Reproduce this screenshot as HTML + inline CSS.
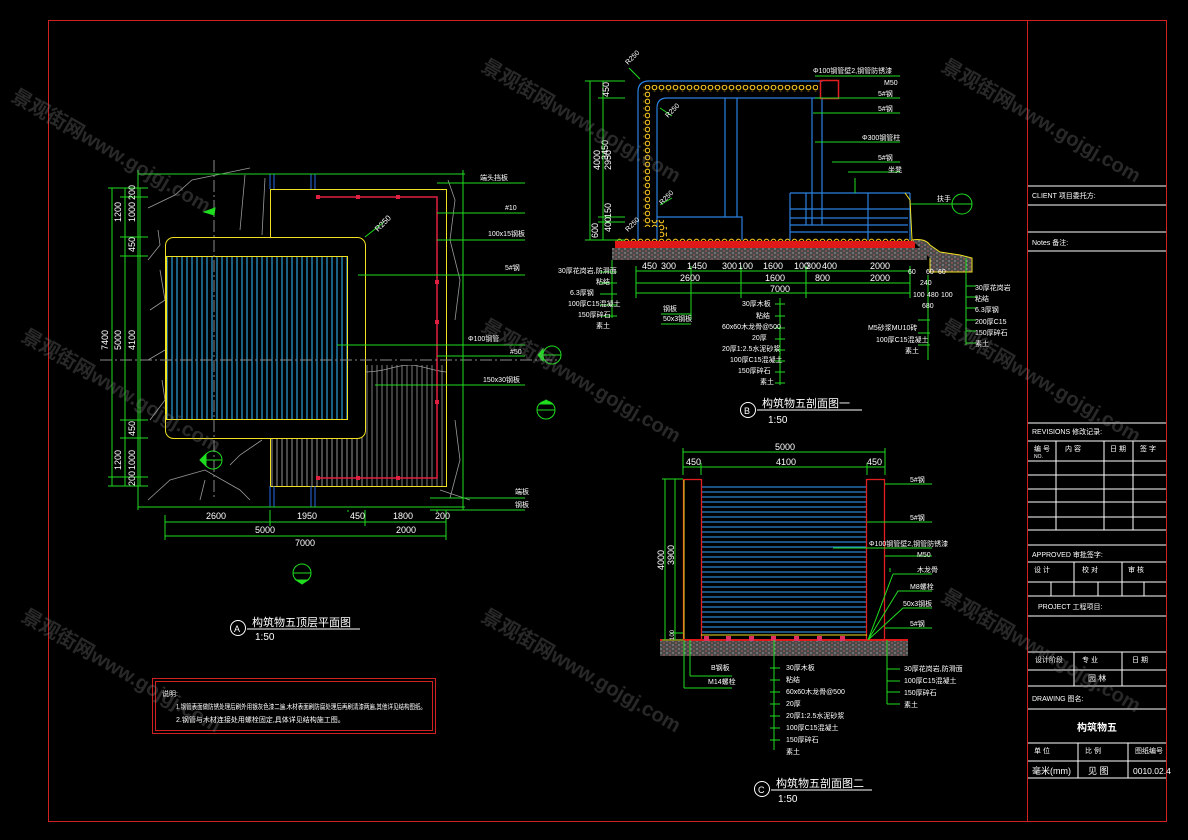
<!DOCTYPE html>
<html><head><meta charset="utf-8"><style>
html,body{margin:0;padding:0;background:#000;}
svg{display:block;font-family:"Liberation Sans","Noto Sans CJK SC",sans-serif;}
.g{stroke:#1fdc1f;stroke-width:1;fill:none}
.t{fill:#fff;font-size:9px}
.ts{fill:#fff;font-size:7px}
.w{stroke:#fff;stroke-width:1;fill:none}
.wm{fill:#8a8a8a;opacity:.3;font-size:20px;font-weight:bold}
</style></head><body>
<svg width="1188" height="840" viewBox="0 0 1188 840" xmlns="http://www.w3.org/2000/svg">
<defs>
<pattern id="vb" width="5" height="10" patternUnits="userSpaceOnUse"><line x1="2" y1="0" x2="2" y2="10" stroke="#2aa0d8" stroke-width="1.2"/></pattern>
<pattern id="vg" width="5" height="10" patternUnits="userSpaceOnUse"><line x1="2" y1="0" x2="2" y2="10" stroke="#9a9a9a" stroke-width="0.8"/></pattern>
<pattern id="hb" width="10" height="5" patternUnits="userSpaceOnUse"><line x1="0" y1="2" x2="10" y2="2" stroke="#2a8ad8" stroke-width="1.2"/></pattern>
<pattern id="gr" width="6" height="4" patternUnits="userSpaceOnUse"><rect width="6" height="4" fill="#4a4a4a"/><circle cx="1" cy="1" r=".7" fill="#aaa"/><circle cx="4" cy="3" r=".7" fill="#c06060"/></pattern>
<pattern id="yd" width="7" height="7" patternUnits="userSpaceOnUse"><circle cx="3.5" cy="3.5" r="2.3" fill="none" stroke="#f0c020" stroke-width="1.2"/></pattern>
</defs>
<rect width="1188" height="840" fill="#000"/>
<rect x="48.5" y="20.5" width="1118" height="801" fill="none" stroke="#d02020" stroke-width="1"/>
<line x1="1027.5" y1="20" x2="1027.5" y2="822" stroke="#d02020"/>

<!-- ===== PLAN A ===== -->
<g stroke="#9a9a9a" fill="none" stroke-width=".8">
<path d="M148,208 L175,195 L192,180 L250,168 M148,260 L160,245 L158,230 M150,310 L165,300 L160,270 M148,360 L165,350 M150,420 L165,400 L162,380 M148,500 L170,480 L205,470 L240,490 L250,500 M230,465 L240,455 L262,440 M200,500 L205,480 M245,175 L240,230 M265,178 L262,235 M448,180 L455,200 L450,240 L460,280 L455,320 M455,420 L460,460 L450,498 M440,490 L470,500 M365,372 C385,372 395,365 410,365 C420,365 430,370 446,372"/>
</g>
<rect x="270" y="365" width="176" height="121" fill="url(#vg)"/>
<rect x="270" y="438" width="95" height="48" fill="url(#vg)"/>
<rect x="270" y="189" width="176" height="176" fill="#000"/>
<rect x="270.5" y="189.5" width="176" height="297" fill="none" stroke="#f0e020"/>
<rect x="165.5" y="237.5" width="200" height="201" rx="8" fill="#000" stroke="#f0e020"/>
<rect x="166" y="256" width="182" height="164" fill="url(#vb)"/>
<rect x="166.5" y="256.5" width="181" height="163" fill="none" stroke="#f0e020"/>
<g stroke="#2a6ae0"><line x1="270" y1="174" x2="270" y2="189"/><line x1="274" y1="174" x2="274" y2="189"/><line x1="311" y1="174" x2="311" y2="189"/><line x1="315" y1="174" x2="315" y2="189"/><line x1="270" y1="486" x2="270" y2="507"/><line x1="274" y1="486" x2="274" y2="507"/><line x1="311" y1="486" x2="311" y2="507"/><line x1="315" y1="486" x2="315" y2="507"/></g>
<g stroke="#e02040" stroke-width="1.5" fill="none"><path d="M318,197 H437 V478 H318"/></g>
<g fill="#e02040"><rect x="316" y="195" width="4" height="4"/><rect x="356" y="195" width="4" height="4"/><rect x="396" y="195" width="4" height="4"/><rect x="316" y="476" width="4" height="4"/><rect x="356" y="476" width="4" height="4"/><rect x="396" y="476" width="4" height="4"/><rect x="435" y="280" width="4" height="4"/><rect x="435" y="320" width="4" height="4"/><rect x="435" y="400" width="4" height="4"/></g>
<line x1="100" y1="360" x2="560" y2="360" stroke="#888" stroke-dasharray="12,3,2,3"/>
<line x1="214" y1="160" x2="214" y2="500" stroke="#888" stroke-dasharray="12,3,2,3"/>
<g class="g">
<line x1="138" y1="174" x2="465" y2="174"/><line x1="138" y1="507" x2="465" y2="507"/>
<line x1="138" y1="170" x2="138" y2="510"/><line x1="463" y1="170" x2="463" y2="510"/>
<line x1="112" y1="188" x2="112" y2="486"/><line x1="125" y1="188" x2="125" y2="486"/><line x1="140" y1="188" x2="140" y2="486"/>
<path d="M108,188 H148 M120,197 H148 M120,237 H148 M120,256 H148 M120,420 H148 M120,438 H148 M108,477 H148 M108,486 H148"/>
<line x1="165" y1="522" x2="446" y2="522"/><line x1="165" y1="536" x2="446" y2="536"/>
<path d="M165,515 V540 M270,510 V526 M348,510 V512 M365,510 V526 M437,510 V512 M446,510 V540"/>
<path d="M437,183 H525 M437,213 H525 M437,240 H525 M358,275 H525 M337,345 H525 M437,356 H525 M375,385 H525 M430,498 H525 M430,510 H525"/>
<path d="M365,237 L384,222"/>
</g>
<g class="ts">
<text x="480" y="180">端头挡板</text><text x="505" y="210">#10</text><text x="488" y="236">100x15钢板</text><text x="505" y="270">5#钢</text>
<text x="468" y="341">Φ100钢管</text><text x="510" y="354">#50</text><text x="483" y="382">150x30钢板</text><text x="515" y="494">端板</text><text x="515" y="507">钢板</text>
</g>
<g class="t">
<text x="206" y="519">2600</text><text x="297" y="519">1950</text><text x="350" y="519">450</text><text x="393" y="519">1800</text><text x="435" y="519">200</text>
<text x="255" y="533">5000</text><text x="396" y="533">2000</text><text x="295" y="546">7000</text>
<text transform="translate(121,222) rotate(-90)">1200</text><text transform="translate(135,222) rotate(-90)">1000</text><text transform="translate(135,200) rotate(-90)">200</text>
<text transform="translate(135,252) rotate(-90)">450</text><text transform="translate(108,350) rotate(-90)">7400</text><text transform="translate(121,350) rotate(-90)">5000</text><text transform="translate(135,350) rotate(-90)">4100</text>
<text transform="translate(135,436) rotate(-90)">450</text><text transform="translate(121,470) rotate(-90)">1200</text><text transform="translate(135,470) rotate(-90)">1000</text><text transform="translate(135,486) rotate(-90)">200</text>
<text transform="translate(378,232) rotate(-45)" font-size="8">R250</text>
</g>
<g class="g" stroke-width="1.2">
<circle cx="552" cy="355" r="9"/><line x1="543" y1="355" x2="561" y2="355"/><path d="M538,355 L543,349 L543,361Z" fill="#1fdc1f"/>
<circle cx="546" cy="410" r="9"/><line x1="537" y1="410" x2="555" y2="410"/><path d="M546,400 L540,404 L552,404Z" fill="#1fdc1f"/>
<circle cx="213" cy="460" r="9"/><line x1="204" y1="460" x2="222" y2="460"/><path d="M200,460 L206,454 L206,466Z" fill="#1fdc1f"/>
<circle cx="302" cy="573" r="9"/><line x1="293" y1="573" x2="311" y2="573"/><path d="M302,584 L296,580 L308,580Z" fill="#1fdc1f"/>
<circle cx="962" cy="204" r="10"/><line x1="952" y1="204" x2="972" y2="204"/><line x1="911" y1="204" x2="952" y2="204"/>
<path d="M204,212 L215,208 L214,215Z" fill="#1fdc1f"/>
</g>
<circle cx="238" cy="628" r="7.5" fill="none" stroke="#fff"/><text x="234" y="632" class="t" font-size="10">A</text>
<text x="252" y="626" fill="#fff" font-size="11">构筑物五顶层平面图</text><line x1="247" y1="629" x2="360" y2="629" stroke="#fff"/>
<text x="255" y="640" fill="#fff" font-size="10">1:50</text>
<rect x="152.5" y="678.5" width="283" height="55" fill="none" stroke="#d02020"/>
<rect x="155.5" y="681.5" width="277" height="49" fill="none" stroke="#d02020"/>
<g class="ts" font-size="6"><text x="162" y="696">说明:</text><text x="176" y="709" textLength="250" lengthAdjust="spacingAndGlyphs">1.钢管表面做防锈处理后刷外用银灰色漆二遍,木材表面刷防腐处理后再刷清漆两遍,其他详见结构图纸。</text><text x="176" y="722">2.钢管与木材连接处用螺栓固定,具体详见结构施工图。</text></g>

<!-- ===== SECTION B ===== -->
<g stroke="#2a80e0" fill="none" stroke-width="1.2">
<path d="M638,240 V92 Q638,81 649,81 H823"/>
<path d="M657,240 V108 Q657,98 667,98 H823"/>
<path d="M657,217 H742 V240"/>
<path d="M725,98 V217 M737,98 V217 M812,98 V225 M822,98 V225"/>
<path d="M790,193 H910 M790,209 H910 M790,218 H908 M790,225 H908 M790,232 H908 M790,193 V240 M806,193 V225 M868,193 V240 M910,193 V240"/>
</g>
<g fill="url(#yd)"><rect x="643" y="85" width="175" height="7"/><rect x="643" y="92" width="7" height="135"/><rect x="650" y="220" width="14" height="7"/><rect x="660" y="227" width="7" height="10"/></g>
<rect x="820.5" y="80.5" width="18" height="18" fill="none" stroke="#e02020" stroke-width="1.5"/>
<path d="M905,193 L910,200 L912,240" stroke="#f0e020" fill="none"/>
<rect x="615" y="238" width="297" height="3" fill="url(#yd)"/>
<rect x="615" y="241" width="300" height="7" fill="#e01818"/>
<rect x="612" y="248" width="315" height="12" fill="url(#gr)"/>
<path d="M912,240 Q925,238 930,245 L940,252 L960,255 L972,258 L972,272 L930,272 L930,258" fill="url(#gr)" stroke="#f0e020"/>
<g class="g">
<path d="M585,81 H625 M598,98 H625 M598,217 H625 M598,222 H625 M585,240 H625 M590,81 V240 M603,81 V240"/>
<path d="M612,260 V318 M600,272 H617 M600,283 H617 M600,294 H617 M600,305 H617 M600,316 H617"/>
<path d="M636,271 H910 M636,283 H910 M636,293 H910 M636,266 V298 M691,266 V298 M741,266 V298 M806,266 V298 M910,266 V298"/>
<path d="M691,298 V320 M661,314 H691 M661,324 H691"/>
<path d="M780,298 V385 M775,304 H785 M775,316 H785 M775,328 H785 M775,339 H785 M775,350 H785 M775,361 H785 M775,372 H785 M775,383 H785"/>
<path d="M928,275 V360 M918,320 H930 M918,333 H930 M918,345 H930"/>
<path d="M966,258 V345 M966,286 H976 M966,297 H976 M966,308 H976 M966,320 H976 M966,331 H976 M966,343 H976"/>
<path d="M815,76 H900 M815,98 H900 M813,113 H900 M815,142 H900 M832,162 H900 M848,172 H900 M855,178 V193"/>
<path d="M629,68 L640,79 M660,108 L672,116 M660,205 L672,198"/>
</g>
<g class="ts">
<text x="813" y="73">Φ100钢管壁2,钢管防锈漆</text><text x="884" y="85">M50</text><text x="878" y="96">5#钢</text><text x="878" y="111">5#钢</text>
<text x="862" y="140">Φ300钢管柱</text><text x="878" y="160">5#钢</text><text x="888" y="172">坐凳</text><text x="937" y="201">扶手</text>
<text x="558" y="273">30厚花岗岩,防滑面</text><text x="596" y="284">粘结</text><text x="570" y="295">6.3厚钢</text><text x="568" y="306">100厚C15混凝土</text><text x="578" y="317">150厚碎石</text><text x="596" y="328">素土</text>
<text x="663" y="311">钢板</text><text x="663" y="321">50x3钢板</text>
<text x="742" y="306">30厚木板</text><text x="756" y="318">粘结</text><text x="722" y="329">60x60木龙骨@500</text><text x="752" y="340">20厚</text><text x="722" y="351">20厚1:2.5水泥砂浆</text><text x="730" y="362">100厚C15混凝土</text><text x="738" y="373">150厚碎石</text><text x="760" y="384">素土</text>
<text x="868" y="330">M5砂浆MU10砖</text><text x="876" y="342">100厚C15混凝土</text><text x="905" y="353">素土</text>
<text x="975" y="290">30厚花岗岩</text><text x="975" y="301">粘结</text><text x="975" y="312">6.3厚钢</text><text x="975" y="324">200厚C15</text><text x="975" y="335">150厚碎石</text><text x="975" y="346">素土</text>
</g>
<g class="t" font-size="8">
<text x="642" y="269">450</text><text x="661" y="269">300</text><text x="687" y="269">1450</text><text x="722" y="269">300</text><text x="738" y="269">100</text><text x="763" y="269">1600</text><text x="794" y="269">100</text><text x="806" y="269">300</text><text x="822" y="269">400</text><text x="870" y="269">2000</text>
<text x="680" y="281">2600</text><text x="765" y="281">1600</text><text x="815" y="281">800</text><text x="870" y="281">2000</text><text x="770" y="292">7000</text>
<text x="908" y="274" font-size="7">60</text><text x="926" y="274" font-size="7">60</text><text x="938" y="274" font-size="7">60</text><text x="920" y="285" font-size="7">240</text><text x="913" y="297" font-size="7">100</text><text x="927" y="297" font-size="7">480</text><text x="941" y="297" font-size="7">100</text><text x="922" y="308" font-size="7">680</text>
<text transform="translate(600,170) rotate(-90)">4000</text><text transform="translate(608,160) rotate(-90)">3450</text><text transform="translate(609,97) rotate(-90)">450</text><text transform="translate(611,170) rotate(-90)">2950</text><text transform="translate(611,218) rotate(-90)">150</text><text transform="translate(611,232) rotate(-90)">400</text><text transform="translate(598,238) rotate(-90)">600</text>
<text transform="translate(628,65) rotate(-45)" font-size="7">R250</text><text transform="translate(668,118) rotate(-45)" font-size="7">R250</text><text transform="translate(662,205) rotate(-45)" font-size="7">R250</text><text transform="translate(628,232) rotate(-45)" font-size="7">R250</text>
</g>
<circle cx="748" cy="410" r="7.5" fill="none" stroke="#fff"/><text x="744" y="414" class="t" font-size="10">B</text>
<text x="762" y="407" fill="#fff" font-size="11">构筑物五剖面图一</text><line x1="757" y1="410" x2="862" y2="410" stroke="#fff"/>
<text x="768" y="423" fill="#fff" font-size="10">1:50</text>

<!-- ===== SECTION C ===== -->
<rect x="701" y="483" width="166" height="152" fill="url(#hb)"/>
<rect x="683.5" y="479.5" width="18" height="161" fill="none" stroke="#e02020" stroke-width="1.3"/>
<rect x="866.5" y="479.5" width="18" height="161" fill="none" stroke="#e02020" stroke-width="1.3"/>
<line x1="684" y1="480" x2="684" y2="640" stroke="#f0e020"/>
<line x1="701" y1="635" x2="867" y2="635" stroke="#f0e020"/>
<rect x="660" y="640" width="248" height="16" fill="url(#gr)"/>
<line x1="660" y1="640" x2="908" y2="640" stroke="#e01818" stroke-width="2"/>
<g fill="#e03060"><rect x="704" y="636" width="5" height="5"/><rect x="726" y="636" width="5" height="5"/><rect x="749" y="636" width="5" height="5"/><rect x="771" y="636" width="5" height="5"/><rect x="794" y="636" width="5" height="5"/><rect x="817" y="636" width="5" height="5"/><rect x="840" y="636" width="5" height="5"/></g>
<g class="g">
<path d="M683,452 H885 M683,467 H885 M683,448 V475 M701,463 V475 M867,463 V475 M885,448 V475"/>
<path d="M662,479 H683 M662,640 H683 M665,479 V640 M675,479 V640 M670,633 H683"/>
<path d="M885,484 H932 M867,522 H932 M833,548 H932 M885,556 H932 M890,568 V572 M893,574 H932 M868,640 L893,574 M868,640 L898,591 L932,591 M868,640 L903,608 L932,608 M885,628 H932"/>
<path d="M684,640 V688 M690,640 V676 M690,676 H732 M684,688 H732"/>
<path d="M774,640 V750 M770,668 H780 M770,680 H780 M770,692 H780 M770,704 H780 M770,716 H780 M770,728 H780 M770,740 H780"/>
<path d="M887,640 V704 M887,669 H900 M887,681 H900 M887,692 H900 M887,704 H900"/>
</g>
<g class="t" font-size="8.5"><text x="775" y="450">5000</text><text x="686" y="465">450</text><text x="776" y="465">4100</text><text x="867" y="465">450</text>
<text transform="translate(664,570) rotate(-90)">4000</text><text transform="translate(674,565) rotate(-90)">3900</text><text transform="translate(674,640) rotate(-90)" font-size="6">100</text></g>
<g class="ts">
<text x="910" y="482">5#钢</text><text x="910" y="520">5#钢</text><text x="869" y="546">Φ100钢管壁2,钢管防锈漆</text><text x="917" y="557">M50</text><text x="917" y="572">木龙骨</text><text x="910" y="589">M8螺栓</text><text x="903" y="606">50x3钢板</text><text x="910" y="626">5#钢</text>
<text x="711" y="670">B钢板</text><text x="708" y="684">M14螺栓</text>
<text x="786" y="670">30厚木板</text><text x="786" y="682">粘结</text><text x="786" y="694">60x60木龙骨@500</text><text x="786" y="706">20厚</text><text x="786" y="718">20厚1:2.5水泥砂浆</text><text x="786" y="730">100厚C15混凝土</text><text x="786" y="742">150厚碎石</text><text x="786" y="754">素土</text>
<text x="904" y="671">30厚花岗岩,防滑面</text><text x="904" y="683">100厚C15混凝土</text><text x="904" y="695">150厚碎石</text><text x="904" y="707">素土</text>
</g>
<circle cx="762" cy="789" r="7.5" fill="none" stroke="#fff"/><text x="758" y="793" class="t" font-size="10">C</text>
<text x="776" y="787" fill="#fff" font-size="11">构筑物五剖面图二</text><line x1="771" y1="790" x2="872" y2="790" stroke="#fff"/>
<text x="778" y="802" fill="#fff" font-size="10">1:50</text>

<!-- ===== TITLE BLOCK ===== -->
<g class="w">
<path d="M1028,186 H1166 M1028,205 H1166 M1028,232 H1166 M1028,251 H1166"/>
<path d="M1028,423 H1166 M1028,441 H1166 M1028,461 H1166 M1028,475 H1166 M1028,489 H1166 M1028,502 H1166 M1028,517 H1166 M1028,530 H1166 M1028,545 H1166"/>
<path d="M1056,441 V530 M1104,441 V530 M1133,441 V530"/>
<path d="M1028,562 H1166 M1028,582 H1166 M1028,596 H1166 M1074,562 V596 M1122,562 V596 M1051,582 V596 M1098,582 V596 M1144,582 V596"/>
<path d="M1028,616 H1166 M1028,652 H1166 M1028,670 H1166 M1028,686 H1166 M1074,652 V686 M1122,652 V686"/>
<path d="M1028,709 H1166 M1028,743 H1166 M1028,761 H1166 M1028,778 H1166 M1078,743 V778 M1128,743 V778"/>
</g>
<g class="ts">
<text x="1032" y="198">CLIENT 项目委托方:</text><text x="1032" y="245">Notes 备注:</text>
<text x="1032" y="434">REVISIONS 修改记录:</text>
<text x="1034" y="451">编 号</text><text x="1034" y="458" font-size="5">NO.</text><text x="1065" y="451">内 容</text><text x="1110" y="451">日 期</text><text x="1140" y="451">签 字</text>
<text x="1032" y="557">APPROVED 审批签字:</text>
<text x="1034" y="572">设 计</text><text x="1082" y="572">校 对</text><text x="1128" y="572">审 核</text>
<text x="1038" y="609">PROJECT 工程项目:</text>
<text x="1035" y="662">设计阶段</text><text x="1082" y="662">专 业</text><text x="1132" y="662">日 期</text>
<text x="1088" y="681" font-size="8">园 林</text>
<text x="1032" y="701">DRAWING 图名:</text>
<text x="1034" y="753">单 位</text><text x="1085" y="753">比 例</text><text x="1135" y="753">图纸编号</text>
</g>
<text x="1077" y="731" fill="#fff" font-size="10" font-weight="bold">构筑物五</text>
<text x="1032" y="774" fill="#fff" font-size="9">毫米(mm)</text><text x="1088" y="774" fill="#fff" font-size="9">见 图</text><text x="1133" y="774" fill="#fff" font-size="8.5">0010.02.4</text>

<g class="wm">
<text transform="translate(10,100) rotate(30)">景观街网www.gojgj.com</text>
<text transform="translate(480,70) rotate(30)">景观街网www.gojgj.com</text>
<text transform="translate(940,70) rotate(30)">景观街网www.gojgj.com</text>
<text transform="translate(20,340) rotate(30)">景观街网www.gojgj.com</text>
<text transform="translate(480,330) rotate(30)">景观街网www.gojgj.com</text>
<text transform="translate(940,330) rotate(30)">景观街网www.gojgj.com</text>
<text transform="translate(20,620) rotate(30)">景观街网www.gojgj.com</text>
<text transform="translate(480,620) rotate(30)">景观街网www.gojgj.com</text>
<text transform="translate(940,600) rotate(30)">景观街网www.gojgj.com</text>
</g>
</svg>
</body></html>
